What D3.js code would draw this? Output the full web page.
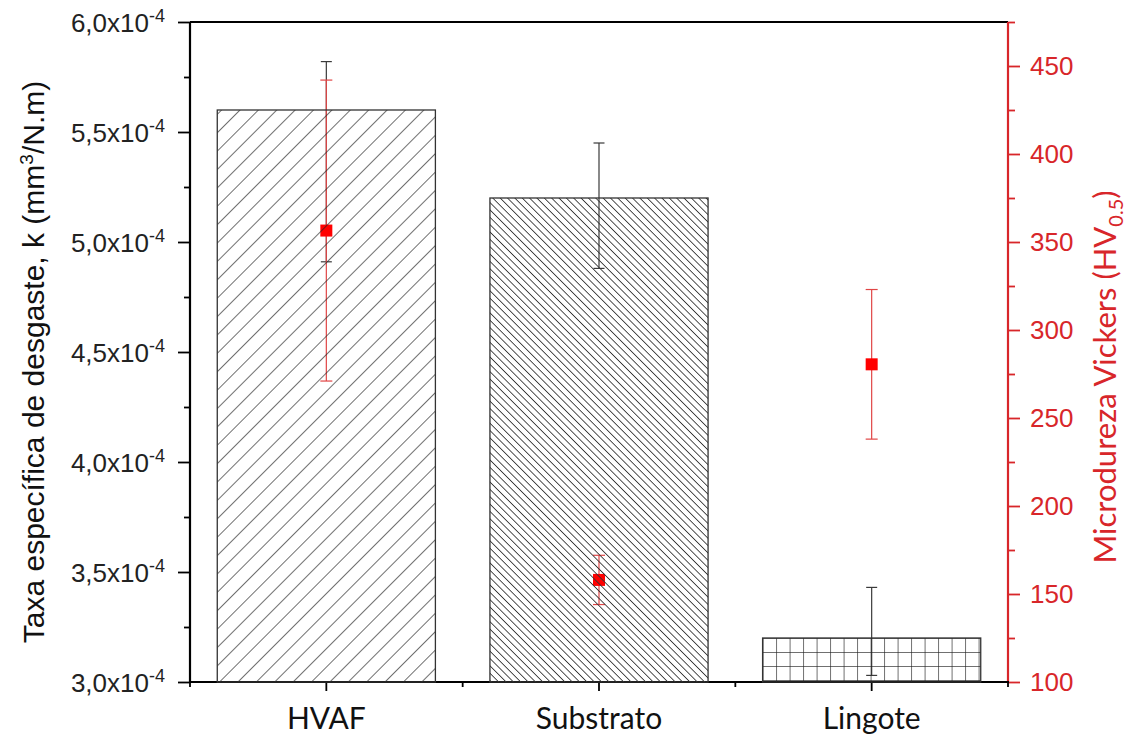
<!DOCTYPE html>
<html>
<head>
<meta charset="utf-8">
<script src="https://cdn.jsdelivr.net/npm/d3@7"></script>
<style>
  body { margin: 0; background: #fff; }
  svg { display: block; }
</style>
</head>
<body>
<div id="chart"></div>
<script>
// values
const categories = ["HVAF", "Substrato", "Lingote"];
const wearRate = [5.6e-4, 5.2e-4, 3.2e-4];
const wearLow = [4.91e-4, 4.88e-4, 3.03e-4];
const wearHigh = [5.82e-4, 5.45e-4, 3.43e-4];
const hardness = [356.5, 158, 280.5];
const hardnessErr = [85.5, 14, 42.5];
const leftTicks = [3.0e-4, 3.5e-4, 4.0e-4, 4.5e-4, 5.0e-4, 5.5e-4, 6.0e-4];
const rightTicks = [100, 150, 200, 250, 300, 350, 400, 450];
const patterns = ["hatchFwd", "hatchBack", "grid"];

let margin = {top: 22, right: 123, bottom: 54, left: 190},
    width = 1131 - margin.left - margin.right,
    height = 736 - margin.top - margin.bottom;

const red = "#d8262a";

const svg = d3.select("#chart")
  .append("svg")
    .attr("width", 1131)
    .attr("height", 736);

const defs = svg.append("defs");
const g = svg.append("g")
    .attr("transform", `translate(${margin.left},${margin.top})`);

let x = d3.scaleBand()
    .domain(categories)
    .range([0, width])
    .paddingInner(0.2)
    .paddingOuter(0.1);

let y = d3.scaleLinear()
    .domain([3.0e-4, 6.0e-4])
    .range([height, 0]);

let y2 = d3.scaleLinear()
    .domain([100, 475])
    .range([height, 0]);

// fill patterns
let p1 = defs.append("pattern")
    .attr("id", "hatchFwd")
    .attr("patternUnits", "userSpaceOnUse")
    .attr("width", 13).attr("height", 13)
    .attr("patternTransform", "rotate(45)");
p1.append("line").attr("x1", 0).attr("y1", 0).attr("x2", 0).attr("y2", 13)
    .attr("stroke", "#222").attr("stroke-width", 1.3);

let p2 = defs.append("pattern")
    .attr("id", "hatchBack")
    .attr("patternUnits", "userSpaceOnUse")
    .attr("width", 5.2).attr("height", 5.2)
    .attr("patternTransform", "rotate(-45)");
p2.append("line").attr("x1", 0).attr("y1", 0).attr("x2", 0).attr("y2", 5.2)
    .attr("stroke", "#333").attr("stroke-width", 1.7);

let p3 = defs.append("pattern")
    .attr("id", "grid")
    .attr("patternUnits", "userSpaceOnUse")
    .attr("x", margin.left + x("Lingote"))
    .attr("y", margin.top + y(wearRate[2]))
    .attr("width", 13.5).attr("height", 14);
p3.append("line").attr("x1", 0).attr("y1", 0).attr("x2", 0).attr("y2", 14)
    .attr("stroke", "#222").attr("stroke-width", 1.3);
p3.append("line").attr("x1", 0).attr("y1", 0).attr("x2", 13.5).attr("y2", 0)
    .attr("stroke", "#222").attr("stroke-width", 1.3);

const data = categories.map((c, i) => ({
  cat: c, k: wearRate[i], lo: wearLow[i], hi: wearHigh[i],
  hv: hardness[i], hvErr: hardnessErr[i], pat: patterns[i]
}));

// bars (patterns use absolute coords, so draw bars in svg space)
svg.append("g")
  .selectAll("rect")
  .data(data)
  .join("rect")
    .attr("x", d => margin.left + x(d.cat))
    .attr("y", d => margin.top + y(d.k))
    .attr("width", x.bandwidth())
    .attr("height", d => y(3.0e-4) - y(d.k))
    .attr("fill", d => `url(#${d.pat})`)
    .attr("stroke", "#333")
    .attr("stroke-width", 1.3);

// black error bars
const cap = 11;
const eb = g.append("g").attr("stroke", "#3a3a3a").attr("stroke-width", 1.2);
data.forEach(d => {
  let cx = x(d.cat) + x.bandwidth() / 2;
  eb.append("line").attr("x1", cx).attr("x2", cx).attr("y1", y(d.lo)).attr("y2", y(d.hi));
  eb.append("line").attr("x1", cx - cap / 2).attr("x2", cx + cap / 2).attr("y1", y(d.lo)).attr("y2", y(d.lo));
  eb.append("line").attr("x1", cx - cap / 2).attr("x2", cx + cap / 2).attr("y1", y(d.hi)).attr("y2", y(d.hi));
});

// red error bars + markers
const rb = g.append("g").attr("stroke", "#e04545").attr("stroke-width", 1.2);
data.forEach(d => {
  let cx = x(d.cat) + x.bandwidth() / 2;
  let t = y2(d.hv + d.hvErr), b = y2(d.hv - d.hvErr);
  rb.append("line").attr("x1", cx).attr("x2", cx).attr("y1", t).attr("y2", b);
  rb.append("line").attr("x1", cx - 6).attr("x2", cx + 6).attr("y1", t).attr("y2", t);
  rb.append("line").attr("x1", cx - 6).attr("x2", cx + 6).attr("y1", b).attr("y2", b);
});
g.append("g")
  .selectAll("rect")
  .data(data)
  .join("rect")
    .attr("x", d => x(d.cat) + x.bandwidth() / 2 - 6)
    .attr("y", d => y2(d.hv) - 6)
    .attr("width", 12)
    .attr("height", 12)
    .attr("fill", "#ff0000");

// top frame line
g.append("line")
    .attr("x1", 0).attr("x2", width).attr("y1", 0).attr("y2", 0)
    .attr("stroke", "#000").attr("stroke-width", 2);

// left axis
let yAxis = g.append("g")
    .call(d3.axisLeft(y).tickValues(leftTicks).tickSize(12).tickFormat(""))
    .call(g => g.select(".domain").attr("stroke-width", 2.2).attr("d", `M0,${height + 1}V0`));
yAxis.selectAll(".tick line").attr("stroke-width", 1.8);

const lbl = yAxis.selectAll(".tick")
  .append("text")
    .attr("x", -25)
    .attr("dy", "0.36em")
    .attr("fill", "#222")
    .attr("text-anchor", "end")
    .style("font-family", "'Liberation Sans', Arial, sans-serif")
    .style("font-size", "26px");
lbl.append("tspan").text(d => d3.format(".1f")(d * 1e4).replace(".", ",") + "x10");
lbl.append("tspan").attr("dy", -10).style("font-size", "18px").text("-4");

g.append("g")
    .call(d3.axisLeft(y).tickValues(leftTicks.slice(1).map(v => v - 0.25e-4)).tickSize(6).tickFormat(""))
    .call(g => g.select(".domain").remove())
    .selectAll("line").attr("stroke-width", 1.8);

// right axis
let y2Axis = g.append("g")
    .attr("transform", `translate(${width},0)`)
    .call(d3.axisRight(y2).tickValues(rightTicks).tickSize(12).tickPadding(10))
    .call(g => g.select(".domain").attr("stroke", red).attr("stroke-width", 2.2).attr("d", `M0,${height + 1}V0`));
y2Axis.selectAll(".tick line").attr("stroke", red).attr("stroke-width", 1.8);
y2Axis.selectAll(".tick text")
    .attr("fill", red)
    .style("font-family", "'Liberation Sans', Arial, sans-serif")
    .style("font-size", "26px");
g.append("g")
    .attr("transform", `translate(${width},0)`)
    .call(d3.axisRight(y2).tickValues(rightTicks.map(v => v + 25)).tickSize(7).tickFormat(""))
    .call(g => g.select(".domain").remove())
    .selectAll("line").attr("stroke", red).attr("stroke-width", 1.8);

// bottom axis
let xAxis = g.append("g")
    .attr("transform", `translate(0,${height})`)
    .call(d3.axisBottom(x).tickSize(9).tickPadding(17))
    .call(g => g.select(".domain").attr("stroke-width", 2.2).attr("d", `M-1,0H${width + 1}`));
xAxis.selectAll(".tick line").attr("stroke-width", 1.8);
xAxis.selectAll(".tick text")
    .attr("fill", "#111")
    .style("font-family", "Lato, 'Open Sans', sans-serif")
    .style("font-size", "30px");
// minor ticks at band edges
const edges = categories.map(c => x(c) - x.step() * x.paddingInner() / 2).concat([width]);
xAxis.append("g")
  .selectAll("line")
  .data(edges)
  .join("line")
    .attr("x1", d => d).attr("x2", d => d)
    .attr("y1", 0).attr("y2", 5)
    .attr("stroke", "#000").attr("stroke-width", 1.8);

// axis titles
const t1 = svg.append("text")
    .attr("transform", `translate(44,362) rotate(-90)`)
    .attr("text-anchor", "middle")
    .attr("fill", "#111")
    .style("font-family", "'Liberation Sans', Arial, sans-serif")
    .style("font-size", "30px");
t1.append("tspan").text("Taxa específica de desgaste, k (mm");
t1.append("tspan").attr("dy", -11).style("font-size", "19px").text("3");
t1.append("tspan").attr("dy", 11).text("/N.m)");

const t2 = svg.append("text")
    .attr("transform", `translate(1116,377) rotate(-90)`)
    .attr("text-anchor", "middle")
    .attr("fill", red)
    .style("font-family", "Lato, 'Open Sans', sans-serif")
    .style("font-size", "31px");
t2.append("tspan").text("Microdureza Vickers (HV");
t2.append("tspan").attr("dy", 7).style("font-size", "20px").text("0.5");
t2.append("tspan").attr("dy", -7).text(")");
</script>
</body>
</html>
